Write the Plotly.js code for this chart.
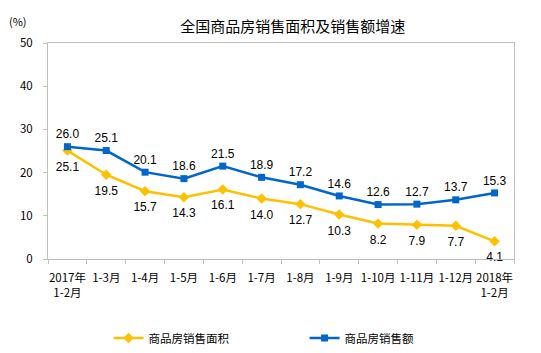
<!DOCTYPE html>
<html>
<head>
<meta charset="utf-8">
<script src="https://cdn.plot.ly/plotly-3.0.1.min.js"></script>
<style>html,body{margin:0;padding:0;background:#fff;}#chart{width:541px;height:353px;}</style>
</head>
<body>
<div id="chart"></div>
<script>
const categories = ["2017年<br>1-2月","1-3月","1-4月","1-5月","1-6月","1-7月","1-8月","1-9月","1-10月","1-11月","1-12月","2018年<br>1-2月"];
const areaGrowth = [25.1,19.5,15.7,14.3,16.1,14.0,12.7,10.3,8.2,7.9,7.7,4.1];
const salesGrowth = [26.0,25.1,20.1,18.6,21.5,18.9,17.2,14.6,12.6,12.7,13.7,15.3];
const yTicks = [0,10,20,30,40,50];
const seriesNames = ["商品房销售面积","商品房销售额"];

const labelFont = {family: "Liberation Sans, Arial, sans-serif", size: 12, color: "#000"};
const traces = [
  {
    x: categories, y: areaGrowth, name: seriesNames[0], type: "scatter",
    mode: "lines+markers",
    line: {color: "#FFC000", width: 2.5},
    marker: {symbol: "diamond", size: 8, color: "#FFC000"}
  },
  {
    x: categories, y: salesGrowth, name: seriesNames[1], type: "scatter",
    mode: "lines+markers+text",
    line: {color: "#0066CC", width: 2.5},
    marker: {symbol: "square", size: 7, color: "#0066CC"},
    text: salesGrowth.map(v => v.toFixed(1)), textposition: "top center",
    textfont: labelFont, cliponaxis: false
  },
  {
    x: categories, y: areaGrowth, type: "scatter", mode: "markers+text", showlegend: false,
    marker: {size: 16, opacity: 0, color: "#FFC000"},
    text: areaGrowth.map(v => v.toFixed(1)), textposition: "bottom center",
    textfont: labelFont, cliponaxis: false
  }
];
const tickFont = {family: "Noto Sans CJK SC, sans-serif", size: 11.5, color: "#000"};
const layout = {
  width: 541, height: 353,
  margin: {l: 48, r: 27, t: 43, b: 94, autoexpand: false},
  paper_bgcolor: "#fff", plot_bgcolor: "#fff",
  title: {text: "全国商品房销售面积及销售额增速", font: {family: "Noto Sans CJK SC, sans-serif", size: 15, color: "#000"}, x: 0.525, xanchor: "center", xref: "paper", y: 1 - 27/353, yanchor: "middle", yref: "container"},
  xaxis: {
    type: "category", showgrid: false, zeroline: false,
    showline: true, linecolor: "#BFBFBF", linewidth: 1, mirror: true,
    ticks: "outside", tickson: "boundaries", ticklen: 4, tickcolor: "#BFBFBF",
    tickfont: tickFont, tickangle: 0, range: [-0.5, 11.5], ticklabelstandoff: 8
  },
  yaxis: {
    range: [0, 50], tickvals: yTicks, showgrid: false, zeroline: false,
    showline: true, linecolor: "#BFBFBF", linewidth: 1, mirror: true,
    ticks: "outside", ticklen: 4, tickcolor: "#BFBFBF",
    tickfont: tickFont, ticklabelstandoff: 8
  },
  showlegend: true,
  legend: {
    orientation: "h", x: 0.13, xanchor: "left", y: 1 - 338/353, yanchor: "middle", yref: "container",
    font: {family: "Noto Sans CJK SC, sans-serif", size: 11.5, color: "#000"},
    entrywidth: 151, entrywidthmode: "pixels", traceorder: "normal"
  },
  annotations: [
    {text: "(%)", xref: "paper", yref: "paper", x: -0.064, y: 1 + 22/216, xanchor: "center", yanchor: "middle", showarrow: false, font: {family: "Noto Sans CJK SC, sans-serif", size: 11, color: "#000"}}
  ]
};
Plotly.newPlot("chart", traces, layout, {displayModeBar: false, staticPlot: true});
</script>
</body>
</html>
